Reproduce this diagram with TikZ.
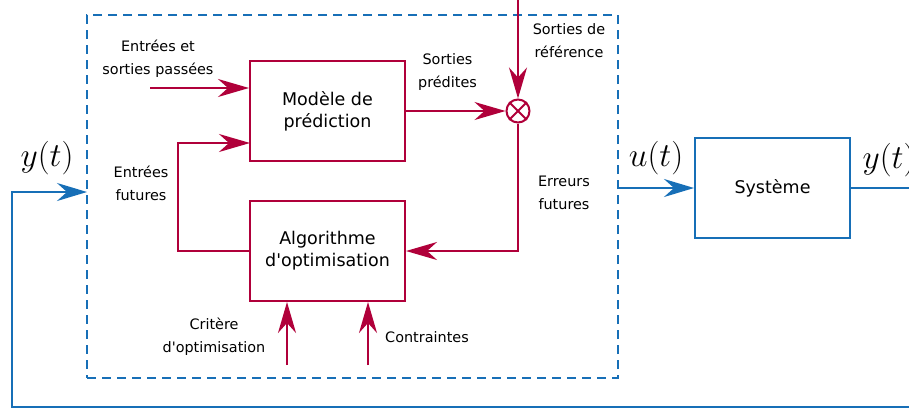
\documentclass[tikz,border=0pt]{standalone}
\usepackage{graphicx}
\usepackage[no-math]{fontspec}
\setmainfont{DejaVu Sans}[Ligatures=TeXOff]
\usetikzlibrary{arrows.meta}
\definecolor{crim}{RGB}{176,0,58}
\definecolor{sysblue}{RGB}{23,111,183}
\newcommand{\bigmath}[1]{\scalebox{1.35}{\Huge$#1$}}
\begin{document}
\begin{tikzpicture}[x=1pt,y=-1pt,
  redbox/.style={draw=crim, line width=2pt, minimum width=155pt, minimum height=100pt, inner sep=0pt, font=\fontsize{17.5}{22}\selectfont, align=center},
  bluebox/.style={draw=sysblue, line width=2pt, minimum width=155pt, minimum height=100pt, inner sep=0pt, font=\fontsize{17.5}{22}\selectfont, align=center},
  redarr/.style={draw=crim, line width=2pt, -{Stealth[length=31pt,width=18pt,inset=10pt]}},
  bluearr/.style={draw=sysblue, line width=2pt, -{Stealth[length=30pt,width=18pt,inset=10pt]}},
  blueline/.style={draw=sysblue, line width=2pt},
  lbl/.style={font=\fontsize{14.4}{23}\selectfont, align=center, inner sep=0pt},
  mlbl/.style={inner sep=0pt}]
\useasboundingbox (0,0) rectangle (909,410);
\clip (0,0) rectangle (909,410);
\fill[white] (0,0) rectangle (909,410);

% boxes
\node[draw=sysblue, line width=2pt, dash pattern=on 9pt off 6pt, minimum width=531pt, minimum height=363pt, inner sep=0pt] (mpc) at (352.5,196.5) {};
\node[redbox] (model) at (327.5,111) {Modèle de\\prédiction};
\node[redbox] (algo) at (327.5,251) {Algorithme\\d'optimisation};
\node[bluebox] (sys) at (772.5,188) {Système};
\node[draw=crim, line width=2pt, circle, minimum size=23pt, inner sep=0pt] (sum) at (518,111) {};
\draw[crim, line width=2pt] (sum.north west) -- (sum.south east) (sum.north east) -- (sum.south west);

% coordinates for free ends
\coordinate (reftop) at (518,-2);
\coordinate (inA) at (150,88);
\coordinate (futin) at (250,143);
\coordinate (futcorner) at (178,251);
\coordinate (crit) at (287,365);
\coordinate (cons) at (368,365);
\coordinate (outR) at (925,188);
\coordinate (fbR) at (925,407);
\coordinate (fbL) at (12,407);
\coordinate (fbin) at (87,192);

% red connectors
\draw[redarr] (reftop) -- (sum.north);
\draw[redarr] (model.east |- sum.west) -- (sum.west);
\draw[redarr] (sum.south) |- (algo.east);
\draw[redarr] (algo.west) -- (futcorner) |- (futin);
\draw[redarr] (inA) -- (inA -| model.west);
\draw[redarr] (crit) -- (crit |- algo.south);
\draw[redarr] (cons) -- (cons |- algo.south);

% blue connectors
\draw[bluearr] (mpc.east |- sys.west) -- (sys.west);
\draw[blueline] (sys.east) -- (outR);
\draw[bluearr] (fbR) -- (fbL) |- (fbin);

% labels
\node[lbl] (lin) at (158,58.5) {Entrées et\\sorties passées};
\node[lbl] (lpred) at (447.5,72.5) {Sorties\\prédites};
\node[lbl] (lref) at (569,41) {Sorties de\\référence};
\node[lbl] (lfut) at (141,183.5) {Entrées\\futures};
\node[lbl] (lerr) at (564,192.5) {Erreurs\\futures};
\node[lbl] (lcrit) at (214,337) {Critère\\d'optimisation};
\node[lbl] (lcons) at (427,337) {Contraintes};
\node[mlbl] (ly1) at (47,158) {\bigmath{y(t)}};
\node[mlbl] (lu) at (656,158) {\bigmath{u(t)}};
\node[mlbl] (ly2) at (889,160) {\bigmath{y(t)}};
\end{tikzpicture}
\end{document}
